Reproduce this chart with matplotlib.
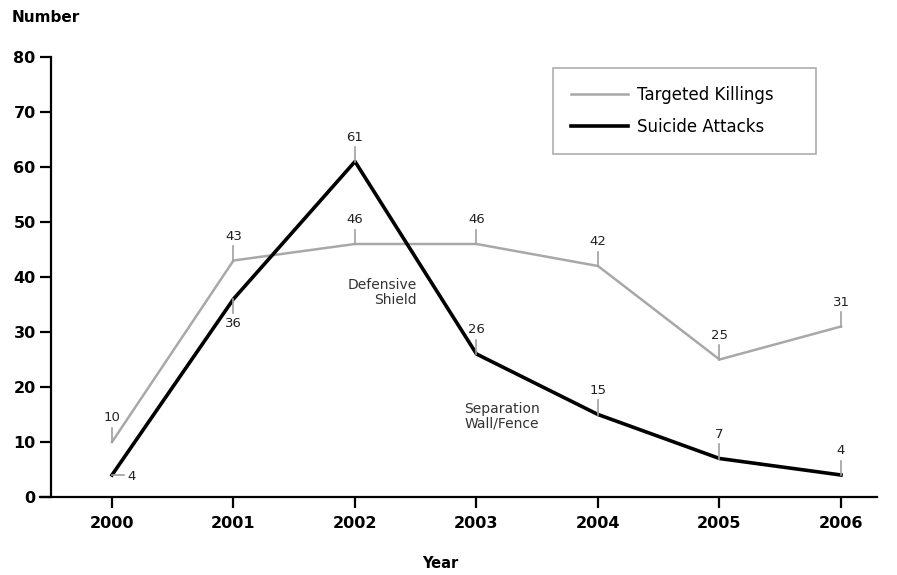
import matplotlib.pyplot as plt
import numpy as np

years = [2000, 2001, 2002, 2003, 2004, 2005, 2006]
targeted_killings = [10, 43, 46, 46, 42, 25, 31]
suicide_attacks = [4, 36, 61, 26, 15, 7, 4]
# where the value label sits: up / down / right
tk_side = ['up', 'up', 'up', 'up', 'up', 'up', 'up']
sa_side = ['right', 'down', 'up', 'up', 'up', 'up', 'up']
y_ticks = [0, 10, 20, 30, 40, 50, 60, 70, 80]

fig = plt.figure(figsize=(8.97, 5.75), dpi=100)
ax = fig.add_axes([40 / 897, 1 - 497 / 575, 837 / 897, 440 / 575])

ax.plot(years, targeted_killings, color='#a8a8a8', lw=1.8, label='Targeted Killings')
ax.plot(years, suicide_attacks, color='black', lw=2.6, label='Suicide Attacks')

lead_col = '#a0a0a0'
d = 2.6
def label_points(xs, ys, sides):
    for x, y, s in zip(xs, ys, sides):
        if s == 'up':
            ax.plot([x, x], [y, y + d], color=lead_col, lw=1.2)
            ax.text(x, y + d + 0.6, str(y), ha='center', va='bottom', fontsize=9.5, color='#222222')
        elif s == 'down':
            ax.plot([x, x], [y, y - d], color=lead_col, lw=1.2)
            ax.text(x, y - d - 0.6, str(y), ha='center', va='top', fontsize=9.5, color='#222222')
        else:
            ax.plot([x, x + 0.1], [y, y], color=lead_col, lw=1.2)
            ax.text(x + 0.13, y - 0.3, str(y), ha='left', va='center', fontsize=9.5, color='#222222')

label_points(years, targeted_killings, tk_side)
label_points(years, suicide_attacks, sa_side)

ax.text(2002.51, 37.2, 'Defensive\nShield', ha='right', va='center', fontsize=10,
        color='#333333', linespacing=1.1)
ax.text(2003.21, 14.7, 'Separation\nWall/Fence', ha='center', va='center', fontsize=10,
        color='#333333', linespacing=1.1)

ax.set_xlim(2000 - 72 / 121.5, 2006 + 36 / 121.5)
ax.set_ylim(0, 80)
ax.set_xticks(years)
ax.set_yticks(y_ticks)
ax.spines['top'].set_visible(False)
ax.spines['right'].set_visible(False)
ax.spines['left'].set_position(('data', 2000 - 61 / 121.5))
ax.spines['left'].set_linewidth(1.6)
ax.spines['bottom'].set_linewidth(1.6)
ax.tick_params(axis='both', length=8, width=1.6, labelsize=11.5)
ax.tick_params(axis='x', pad=6)
ax.tick_params(axis='y', pad=3)
for t in ax.get_xticklabels() + ax.get_yticklabels():
    t.set_fontweight('bold')

fig.text(12 / 897, 1 - 18 / 575, 'Number', fontsize=11, fontweight='bold', va='center')
fig.text(440 / 897, 1 - 564 / 575, 'Year', fontsize=10.5, fontweight='bold', va='center', ha='center')

leg = ax.legend(loc='upper left',
                bbox_to_anchor=(553 / 897, 1 - 153 / 575, 263 / 897, 85 / 575),
                bbox_transform=fig.transFigure, mode='expand', frameon=True, fancybox=False,
                fontsize=12, handlelength=3.4, handletextpad=0.55, borderpad=1.1,
                labelspacing=0.8, borderaxespad=0)
leg.get_frame().set_edgecolor('#999999')
leg.get_frame().set_linewidth(1.2)

fig.savefig('out.png', dpi=100)
